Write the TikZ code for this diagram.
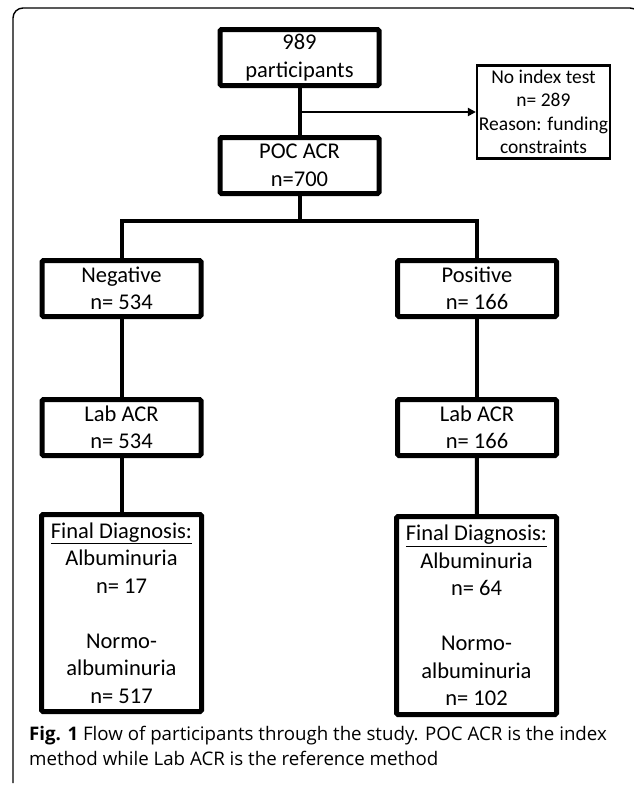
\documentclass[tikz,border=0pt]{standalone}
\usepackage{fontspec}
\setmainfont{Carlito}
\newfontfamily\capfont{Open Sans}
\usetikzlibrary{arrows.meta}

\begin{document}
\begin{tikzpicture}[x=1pt,y=-1pt,
    bigbox/.style={draw, line width=5pt, rounded corners=1.5pt, minimum width=159pt, minimum height=56pt, align=center, inner sep=0pt, font=\fontsize{22.5}{27.5}\selectfont},
    notebox/.style={draw, line width=2.2pt, minimum width=133pt, minimum height=93pt, align=center, inner sep=0pt, font=\fontsize{19.5}{23.5}\selectfont},
    link/.style={line width=4pt},
    ]
\useasboundingbox (0,0) rectangle (634,787);
\draw[line width=1.4pt, rounded corners=10pt] (13,783) -- (13,8) -- (640,8) -- (640,60);
\node[bigbox] (start) at (299.5,57.5) {989\\participants};
\node[bigbox] (poc) at (299.5,165.5) {POC ACR\\n=700};
\node[notebox] (noidx) at (543.5,112) {No index test\\n= 289\\Reason: funding\\constraints};
\node[bigbox] (neg) at (121.5,288.5) {Negative\\n= 534};
\node[bigbox] (pos) at (477,288.5) {Positive\\n= 166};
\node[bigbox] (labneg) at (121.5,427.5) {Lab ACR\\n= 534};
\node[bigbox] (labpos) at (477,427.5) {Lab ACR\\n= 166};
\node[bigbox, minimum width=160pt, minimum height=197pt] (finneg) at (121.5,613) {\underline{Final Diagnosis:}\\Albuminuria\\n= 17\\[27.5pt]Normo-\\albuminuria\\n= 517};
\node[bigbox, minimum width=160pt, minimum height=198pt] (finpos) at (476.5,615.5) {\underline{Final Diagnosis:}\\Albuminuria\\n= 64\\[27.5pt]Normo-\\albuminuria\\n= 102};
\coordinate (split) at (299.5,221);
\draw[link] (start) -- (poc);
\draw[line width=2.6pt, -{Triangle[length=8pt,width=8pt]}] (start |- noidx) -- (noidx.west);
\draw[link] (poc) -- (split);
\draw[link] (split) -| (neg.north);
\draw[link] (split) -| (pos.north);
\draw[link] (neg) -- (labneg);
\draw[link] (pos) -- (labpos);
\draw[link] (labneg) -- (finneg);
\draw[link] (labpos) -- (finpos);
\node[anchor=north west, inner sep=0pt, align=left, font=\capfont\fontsize{18.7}{25}\selectfont] (caption) at (29,726) {\textbf{Fig. 1} Flow of participants through the study. POC ACR is the index\\method while Lab ACR is the reference method};
\end{tikzpicture}
\end{document}
